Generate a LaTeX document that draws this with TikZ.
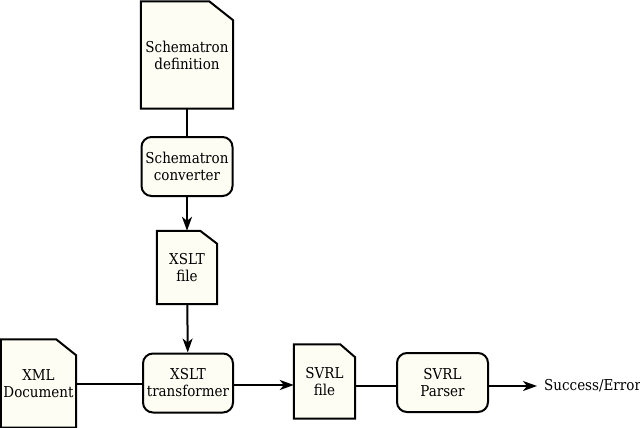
\documentclass[tikz,border=0pt]{standalone}
\usepackage{fontspec}
\setmainfont{DejaVu Serif Condensed}
\usetikzlibrary{arrows.meta}
\pgfdeclarelayer{background}
\pgfsetlayers{background,main}
\definecolor{cream}{RGB}{253,253,244}
\tikzset{
  x=1pt, y=-1pt,
  every node/.style={font=\fontsize{15}{17}\selectfont, align=center, inner sep=0pt},
  procbox/.style={draw, line width=2pt, fill=cream, rounded corners=10pt},
  docbox/.style={},
  docline/.style={draw, line width=2pt, fill=cream, line join=miter},
  conn/.style={line width=2pt},
  arr/.style={conn, -{Stealth[length=14pt,width=10pt,inset=4pt]}}
}
\newcommand{\docshape}[3]{%
  \begin{pgfonlayer}{background}
  \path[docline] (#1.south west) -- (#1.north west) -- ([xshift=-#2]#1.north east) -- ([yshift=#3]#1.north east) -- (#1.south east) -- cycle;
  \end{pgfonlayer}}
\begin{document}
\begin{tikzpicture}
\useasboundingbox (0,0) rectangle (640,428);
% documents
\node[docbox, minimum width=92pt, minimum height=107pt] (def) at (187,55) {Schematron\\definition};
\docshape{def}{24pt}{-19pt}
\node[procbox, minimum width=91pt, minimum height=59pt] (conv) at (187,166.5) {Schematron\\converter};
\node[docbox, minimum width=60pt, minimum height=73pt] (xfile) at (187,267.5) {XSLT\\file};
\docshape{xfile}{17pt}{-13pt}
\node[procbox, minimum width=90pt, minimum height=59pt] (trans) at (188,383) {XSLT\\transformer};
\node[docbox, minimum width=75pt, minimum height=88pt] (xml) at (38.5,383.5) {XML\\Document};
\docshape{xml}{20pt}{-16pt}
\node[docbox, minimum width=61pt, minimum height=74pt] (sfile) at (324.5,381.5) {SVRL\\file};
\docshape{sfile}{15pt}{-13pt}
\node[procbox, minimum width=91pt, minimum height=59pt] (parser) at (442.5,382.5) {SVRL\\Parser};
\node[anchor=west] (res) at (544,386) {Success/Error};
% connectors
\draw[conn] (def) -- (conv);
\draw[arr] (conv) -- (xfile);
\draw[arr] (xfile) -- (trans);
\draw[conn] (xml.east |- 0,384) -- (trans.west |- 0,384);
\draw[arr] (trans.east |- 0,385) -- (sfile.west |- 0,385);
\draw[conn] (sfile.east |- 0,386) -- (parser.west |- 0,386);
\draw[arr] (parser.east |- 0,386) -- ([xshift=-7pt]res.west);
\end{tikzpicture}
\end{document}
